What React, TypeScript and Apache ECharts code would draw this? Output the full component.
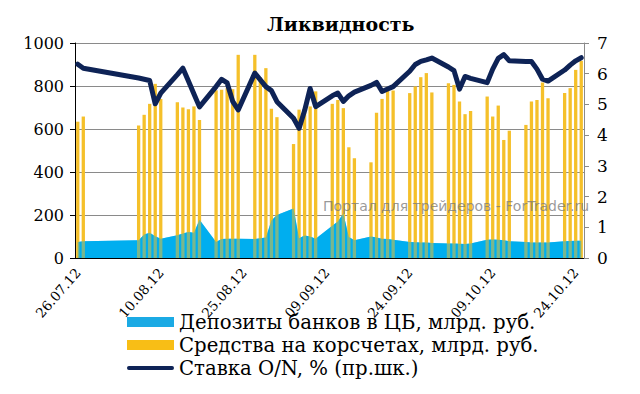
import React, { useEffect, useRef } from "react";
import * as echarts from "echarts";

const _ = null;

// 92 calendar days starting 26.07.2012 (Thursday)
const startYear = 2012;
const startMonth = 6; // July (0-based)
const startDay = 26;
const dayCount = 92;

const depositName = "Депозиты банков в ЦБ, млрд. руб.";
const accountsName = "Средства на корсчетах, млрд. руб.";
const rateName = "Ставка O/N, % (пр.шк.)";
const titleText = "Ликвидность";
const watermarkText = "Портал для трейдеров - ForTrader.ru";

// Средства на корсчетах, млрд. руб. (left axis)
const accounts: (number | null)[] = [
  634, 658, _, _,
  _, _, _, _, _, _, _,
  616, 666, 717, 810, 740, _, _,
  725, 700, 692, 705, 642, _, _,
  780, 782, 790, 785, 945, _, _,
  945, 840, 883, 694, 655, _, _,
  530, 690, 700, 705, 775, _, _,
  717, 735, 697, 515, 464, _, _,
  445, 676, 740, 779, 779, _, _,
  767, 798, 841, 860, 770, _, _,
  813, 805, 728, 669, 684, _, _,
  751, 658, 709, 549, 592, _, _,
  619, 728, 735, 816, 743, _, _,
  767, 790, 875, 917,
];

// Депозиты банков в ЦБ, млрд. руб. (left axis)
const deposits: (number | null)[] = [
  75, 78, _, _,
  _, _, _, _, _, _, _,
  82, 109, 117, 101, 90, _, _,
  106, 114, 121, 117, 178, _, _,
  75, 88, 90, 89, 89, _, _,
  88, 92, 95, 175, 200, _, _,
  230, 92, 105, 100, 90, _, _,
  150, 170, 207, 98, 83, _, _,
  100, 95, 90, 88, 85, _, _,
  75, 73, 72, 72, 70, _, _,
  67, 67, 66, 65, 68, _, _,
  85, 86, 85, 82, 78, _, _,
  74, 72, 72, 72, 72, _, _,
  78, 79, 80, 80,
];

// Ставка O/N, % (right axis)
const rate: (number | null)[] = [
  6.31, 6.18, _, _,
  _, _, _, _, _, _, _,
  5.86, 5.82, 5.78, 5.02, 5.37, _, _,
  5.97, 6.18, 5.76, 5.34, 4.92, _, _,
  5.58, 5.82, 5.70, 5.10, 4.82, _, _,
  6.02, 5.80, 5.58, 5.45, 5.09, _, _,
  4.55, 4.22, 4.80, 5.52, 4.93, _, _,
  5.28, 5.37, 5.10, 5.28, 5.40, _, _,
  5.62, 5.72, 5.42, 5.50, 5.58, _, _,
  6.08, 6.30, 6.40, 6.45, 6.51, _, _,
  6.22, 6.10, 5.50, 5.91, 5.85, _, _,
  5.71, 6.15, 6.50, 6.62, 6.42, _, _,
  6.40, 6.40, 6.15, 5.82, 5.76, _, _,
  6.12, 6.28, 6.42, 6.52,
];

const pad = (n: number) => (n < 10 ? "0" + n : "" + n);
const days: string[] = [];
for (let i = 0; i < dayCount; i++) {
  const d = new Date(Date.UTC(startYear, startMonth, startDay + i));
  days.push(
    pad(d.getUTCDate()) + "." + pad(d.getUTCMonth() + 1) + "." + pad(d.getUTCFullYear() % 100)
  );
}

const SERIF = "DejaVu Serif";
const LINE_ICON =
  "path://M0,0L0.01,0L0,0.01Z M2,3L48,3A2,2 0 0 1 48,7L2,7A2,2 0 0 1 2,3Z M50,10L49.99,10L50,9.99Z";

export default function App() {
  const ref = useRef<HTMLDivElement>(null);
  useEffect(() => {
    if (!ref.current) return;
    const chart = echarts.init(ref.current, undefined, { renderer: "svg" });
    chart.setOption({
      animation: false,
      backgroundColor: "#ffffff",
      title: {
        text: titleText,
        left: 262,
        top: 9,
        textStyle: { fontFamily: SERIF, fontWeight: "bold", fontSize: 19, color: "#000" },
      },
      legend: {
        orient: "vertical",
        left: 122,
        top: 307,
        itemWidth: 47,
        itemHeight: 10,
        itemGap: 3,
        textStyle: { fontFamily: SERIF, fontSize: 19.7, color: "#000" },
        data: [
          { name: depositName, icon: "rect", itemStyle: { color: "#1BAAE4" } },
          { name: accountsName, icon: "rect", itemStyle: { color: "#F8BE16" } },
          { name: rateName, icon: LINE_ICON, itemStyle: { color: "#0E2356" } },
        ],
      },
      grid: { left: 75, right: 56, top: 43, bottom: 136, containLabel: false },
      xAxis: {
        type: "category",
        data: days,
        boundaryGap: true,
        axisLine: { lineStyle: { color: "#000", width: 1 } },
        axisTick: { interval: 14, length: 5, lineStyle: { color: "#000" } },
        axisLabel: {
          interval: 14,
          rotate: 49,
          fontFamily: SERIF,
          fontSize: 13.5,
          color: "#000",
          margin: 12,
        },
        splitLine: { show: false },
      },
      yAxis: [
        {
          type: "value",
          min: 0,
          max: 1000,
          interval: 200,
          axisLine: { show: true, lineStyle: { color: "#000" } },
          axisTick: { show: true, length: 5, lineStyle: { color: "#000" } },
          axisLabel: {
            fontFamily: SERIF,
            fontSize: 16,
            color: "#000",
            margin: 11,
            formatter: (v: number) => String(v),
          },
          splitLine: { lineStyle: { color: "#8a8a8a", width: 1 } },
        },
        {
          type: "value",
          min: 0,
          max: 7,
          interval: 1,
          axisLine: { show: true, lineStyle: { color: "#8a8a8a" } },
          axisTick: { show: true, length: 5, lineStyle: { color: "#8a8a8a" } },
          axisLabel: { fontFamily: SERIF, fontSize: 17, color: "#000", margin: 13 },
          splitLine: { show: false },
        },
      ],
      graphic: [
        {
          type: "text",
          left: 323,
          top: 199,
          z: 100,
          style: {
            text: watermarkText,
            font: "14px 'DejaVu Sans'",
            fill: "rgba(120,120,120,0.75)",
          },
        },
      ],
      series: [
        {
          name: depositName,
          type: "line",
          data: deposits,
          connectNulls: true,
          symbol: "none",
          lineStyle: { width: 0 },
          itemStyle: { color: "#00AEEF" },
          areaStyle: { color: "#00AEEF", opacity: 1 },
          z: 1,
        },
        {
          name: accountsName,
          type: "bar",
          data: accounts,
          barWidth: 3.3,
          itemStyle: { color: "#F5C02A" },
          z: 2,
        },
        {
          name: "overlay",
          type: "line",
          data: deposits,
          connectNulls: true,
          symbol: "none",
          lineStyle: { width: 0 },
          itemStyle: { color: "#00AEEF" },
          areaStyle: { color: "#00AEEF", opacity: 0.5 },
          z: 3,
        },
        {
          name: rateName,
          type: "line",
          yAxisIndex: 1,
          data: rate,
          connectNulls: true,
          symbol: "none",
          itemStyle: { color: "#0E2356" },
          lineStyle: { color: "#0E2356", width: 5, cap: "round", join: "round" },
          z: 4,
        },
      ],
    });
    return () => chart.dispose();
  }, []);
  return (
    <div
      ref={ref}
      style={{ position: "fixed", left: 0, top: 0, width: 640, height: 394, background: "#fff" }}
    />
  );
}
